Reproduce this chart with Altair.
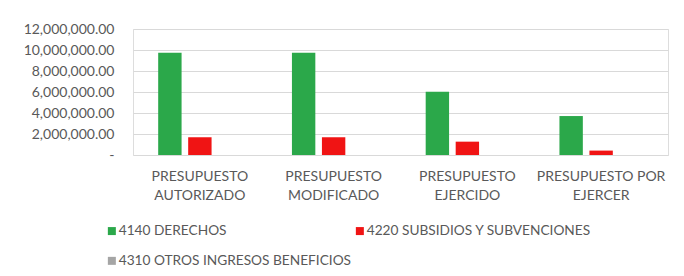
import altair as alt
import pandas as pd

categories = ["PRESUPUESTO AUTORIZADO", "PRESUPUESTO MODIFICADO", "PRESUPUESTO EJERCIDO", "PRESUPUESTO POR EJERCER"]
series = ["4140 DERECHOS", "4220 SUBSIDIOS Y SUBVENCIONES", "4310 OTROS INGRESOS BENEFICIOS"]
derechos = [9740000, 9740000, 6030000, 3710000]
subsidios = [1690000, 1690000, 1270000, 420000]
otros = [0, 0, 0, 0]
colors = ["#2ba84a", "#f01414", "#a5a5a5"]

rows = []
for i, c in enumerate(categories):
    for s, vals in zip(series, [derechos, subsidios, otros]):
        rows.append({"cat": c, "serie": s, "valor": vals[i]})
df = pd.DataFrame(rows)

font = "Lato"
txt = "#595959"

label_expr = "datum.label == 'PRESUPUESTO POR EJERCER' ? ['PRESUPUESTO POR', 'EJERCER'] : split(datum.label, ' ')"

chart = alt.Chart(df).mark_bar().encode(
    x=alt.X("cat:N", sort=categories, title=None,
            scale=alt.Scale(paddingInner=0, paddingOuter=0),
            axis=alt.Axis(labelAngle=0, labelExpr=label_expr, ticks=False, domain=False,
                          labelPadding=21, labelLineHeight=19, labelFont=font, labelFontSize=14,
                          labelColor=txt, labelBaseline="middle")),
    xOffset=alt.XOffset("serie:N", sort=series,
                        scale=alt.Scale(paddingInner=0.22, paddingOuter=0.84)),
    y=alt.Y("valor:Q", title=None,
            scale=alt.Scale(domain=[0, 12000000], nice=False),
            axis=alt.Axis(values=[0, 2000000, 4000000, 6000000, 8000000, 10000000, 12000000],
                          labelExpr="datum.value == 0 ? '-' : format(datum.value, ',.2f')",
                          ticks=False, domain=False, labelPadding=19, labelFont=font,
                          labelFontSize=14, labelColor=txt, gridColor="#d9d9d9", gridWidth=1)),
    color=alt.Color("serie:N", sort=series, title=None,
                    scale=alt.Scale(domain=series, range=colors),
                    legend=alt.Legend(orient="none", legendX=-28, legendY=195, columns=2,
                                      direction="horizontal",
                                      symbolType="square", symbolSize=64, symbolStrokeWidth=0,
                                      labelFont=font, labelFontSize=13.7, labelColor=txt,
                                      labelOffset=0, columnPadding=1, rowPadding=15,
                                      labelLimit=400)),
).properties(
    width=535, height=126,
    autosize=alt.AutoSizeParams(type="none"),
    padding={"left": 125, "top": 21, "right": 8, "bottom": 113},
).configure_view(stroke=None).configure(background="white")

chart.save("out.html", embed_options={"renderer": "svg", "actions": False})
